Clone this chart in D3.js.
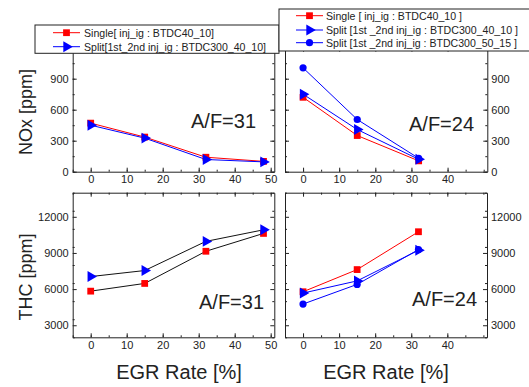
<!DOCTYPE html>
<html>
<head>
<meta charset="utf-8">
<script src="https://cdn.jsdelivr.net/npm/d3@7"></script>
<style>
  body { margin: 0; background: #fff; }
  text { font-family: "Liberation Sans", Arial, sans-serif; fill: #222; }
</style>
</head>
<body>
<div id="chart"></div>
<script>
// EGR rate (x) for each air/fuel ratio
const egr31 = [0, 15, 32, 48];
const egr24 = [0, 15, 32];

// NOx [ppm]
const nox31Single = [470, 335, 140, 100];
const nox31Split = [450, 325, 118, 95];
const nox24Single = [720, 350, 105];
const nox24Split = [750, 408, 120];
const nox24Split2 = [1005, 505, 130];

// THC [ppm]
const thc31Single = [5830, 6470, 9140, 10620];
const thc31Split = [7040, 7540, 9960, 10920];
const thc24Single = [5780, 7620, 10760];
const thc24Split = [5670, 6680, 9220];
const thc24Split2 = [4760, 6390, 9280];

const noxTicks = [0, 300, 600, 900];
const thcTicks = [3000, 6000, 9000, 12000];
const xTicksLeft = [0, 10, 20, 30, 40, 50];
const xTicksRight = [0, 10, 20, 30, 40];

const legend31 = ['Single[ inj_ig : BTDC40_10]', 'Split[1st_2nd inj_ig : BTDC300_40_10]'];
const legend24 = ['Single [ inj_ig : BTDC40_10 ]', 'Split [1st _2nd inj_ig : BTDC300_40_10 ]', 'Split [1st _2nd inj_ig : BTDC300_50_15 ]'];

const width = 529, height = 387;
const svg = d3.select('#chart').append('svg')
  .attr('width', width).attr('height', height);

const RED = '#ff0000', BLUE = '#0000ff';

// draws one marker at (0,0) of the given group
function marker(g, type, color) {
  if (type === 'square') {
    g.append('path').attr('d', d3.symbol(d3.symbolSquare, 46)()).attr('fill', color);
  } else if (type === 'triangle') {
    g.append('path').attr('d', d3.symbol(d3.symbolTriangle, 52)())
      .attr('transform', 'rotate(90)').attr('fill', color);
  } else {
    g.append('circle').attr('r', 3.6).attr('fill', color);
  }
}

function panel(opt) {
  const x = d3.scaleLinear().domain([-5, 51]).range([opt.left, opt.right]);
  const y = d3.scaleLinear().domain(opt.yDomain).range([opt.bottom, opt.top]);
  const g = svg.append('g');

  const minorX = d3.range(-5, 51, 5);
  const minorY = d3.range(opt.yDomain[0], opt.yDomain[1] + 1, opt.minorStep);

  // frame with inward ticks on all sides
  const axes = [
    { ax: d3.axisBottom(x), tr: `translate(0,${opt.bottom})`, ticks: opt.xTicks, minor: minorX, label: true },
    { ax: d3.axisTop(x), tr: `translate(0,${opt.top})`, ticks: opt.xTicks, minor: minorX, label: false },
    { ax: d3.axisLeft(y), tr: `translate(${opt.left},0)`, ticks: opt.yTicks, minor: minorY, label: opt.labelSide === 'left' },
    { ax: d3.axisRight(y), tr: `translate(${opt.right},0)`, ticks: opt.yTicks, minor: minorY, label: opt.labelSide === 'right' }
  ];
  axes.forEach(a => {
    const gm = g.append('g').attr('transform', a.tr)
      .call(a.ax.tickValues(a.minor).tickSize(-2).tickFormat(''));
    gm.select('.domain').remove();
    gm.selectAll('line').attr('stroke', '#222');
    const ga = g.append('g').attr('transform', a.tr)
      .call(a.ax.tickValues(a.ticks).tickSizeInner(-4).tickSizeOuter(0).tickPadding(4)
        .tickFormat(a.label ? d3.format('d') : ''));
    ga.selectAll('text').attr('font-size', 11).attr('fill', '#222')
      .attr('font-family', '"Liberation Sans", Arial, sans-serif');
    ga.selectAll('line, path').attr('stroke', '#222');
  });

  opt.series.forEach(s => {
    const pts = opt.xs.map((v, i) => [x(v), y(s.values[i])]);
    g.append('path').attr('d', d3.line()(pts))
      .attr('fill', 'none').attr('stroke', s.line).attr('stroke-width', 1);
  });
  opt.series.forEach(s => {
    opt.xs.forEach((v, i) => {
      const m = g.append('g').attr('transform', `translate(${x(v)},${y(s.values[i])})`);
      marker(m, s.marker, s.color);
    });
  });

  g.append('text').attr('x', opt.noteX).attr('y', opt.noteY)
    .attr('font-size', 20).attr('fill', '#111').text(opt.note);
}

// top-left: NOx, A/F=31
panel({ left: 72.7, right: 274.3, top: 47.7, bottom: 171.7, yDomain: [0, 1200], minorStep: 150,
  xs: egr31, xTicks: xTicksLeft, yTicks: noxTicks, labelSide: 'left',
  series: [
    { values: nox31Single, marker: 'square', color: RED, line: RED },
    { values: nox31Split, marker: 'triangle', color: BLUE, line: BLUE }
  ], note: 'A/F=31', noteX: 191, noteY: 128 });

// top-right: NOx, A/F=24
panel({ left: 285, right: 487.3, top: 47.7, bottom: 171.7, yDomain: [0, 1200], minorStep: 150,
  xs: egr24, xTicks: xTicksRight, yTicks: noxTicks, labelSide: 'right',
  series: [
    { values: nox24Single, marker: 'square', color: RED, line: RED },
    { values: nox24Split, marker: 'triangle', color: BLUE, line: BLUE },
    { values: nox24Split2, marker: 'circle', color: BLUE, line: BLUE }
  ], note: 'A/F=24', noteX: 409, noteY: 131 });

// bottom-left: THC, A/F=31
panel({ left: 72.7, right: 274.3, top: 192.7, bottom: 337.3, yDomain: [2000, 14000], minorStep: 1500,
  xs: egr31, xTicks: xTicksLeft, yTicks: thcTicks, labelSide: 'left',
  series: [
    { values: thc31Single, marker: 'square', color: RED, line: '#111' },
    { values: thc31Split, marker: 'triangle', color: BLUE, line: '#111' }
  ], note: 'A/F=31', noteX: 199, noteY: 309 });

// bottom-right: THC, A/F=24
panel({ left: 285, right: 487, top: 192.7, bottom: 337.3, yDomain: [2000, 14000], minorStep: 1500,
  xs: egr24, xTicks: xTicksRight, yTicks: thcTicks, labelSide: 'right',
  series: [
    { values: thc24Single, marker: 'square', color: RED, line: RED },
    { values: thc24Split, marker: 'triangle', color: BLUE, line: BLUE },
    { values: thc24Split2, marker: 'circle', color: BLUE, line: BLUE }
  ], note: 'A/F=24', noteX: 412, noteY: 306 });

// legends (text widths fitted to the reference's narrow face)
function legend(x0, y0, x1, y1, rows, items) {
  const g = svg.append('g');
  g.append('rect').attr('x', x0).attr('y', y0).attr('width', x1 - x0).attr('height', y1 - y0)
    .attr('fill', '#fff').attr('stroke', '#222').attr('stroke-width', 1);
  items.forEach((it, i) => {
    const yy = rows.y[i];
    g.append('line').attr('x1', rows.lx0).attr('x2', rows.lx1).attr('y1', yy).attr('y2', yy)
      .attr('stroke', it.color);
    const m = g.append('g').attr('transform', `translate(${(rows.lx0 + rows.lx1) / 2},${yy})`);
    marker(m, it.marker, it.color);
    g.append('text').attr('x', rows.tx).attr('y', yy + 4).attr('font-size', rows.fs)
      .attr('textLength', it.w).attr('lengthAdjust', 'spacingAndGlyphs').text(it.label);
  });
}

legend(35, 25, 279, 53.3, { y: [32.7, 46.7], lx0: 53, lx1: 80, tx: 84, fs: 11.5 }, [
  { label: legend31[0], marker: 'square', color: RED, w: 130 },
  { label: legend31[1], marker: 'triangle', color: BLUE, w: 182 }
]);
legend(279, 9, 529.5, 51, { y: [15.7, 30, 42.7], lx0: 296, lx1: 323, tx: 326, fs: 10.4 }, [
  { label: legend24[0], marker: 'square', color: RED, w: 136 },
  { label: legend24[1], marker: 'triangle', color: BLUE, w: 192 },
  { label: legend24[2], marker: 'circle', color: BLUE, w: 191 }
]);

// axis titles
svg.append('text').attr('transform', 'translate(32,112) rotate(-90)')
  .attr('text-anchor', 'middle').attr('font-size', 18).attr('fill', '#111').text('NOx [ppm]');
svg.append('text').attr('transform', 'translate(32,277) rotate(-90)')
  .attr('text-anchor', 'middle').attr('font-size', 18).attr('fill', '#111').text('THC [ppm]');
svg.append('text').attr('x', 179).attr('y', 379).attr('text-anchor', 'middle')
  .attr('font-size', 20).attr('fill', '#111').text('EGR Rate [%]');
svg.append('text').attr('x', 386).attr('y', 379).attr('text-anchor', 'middle')
  .attr('font-size', 20).attr('fill', '#111').text('EGR Rate [%]');
</script>
</body>
</html>
